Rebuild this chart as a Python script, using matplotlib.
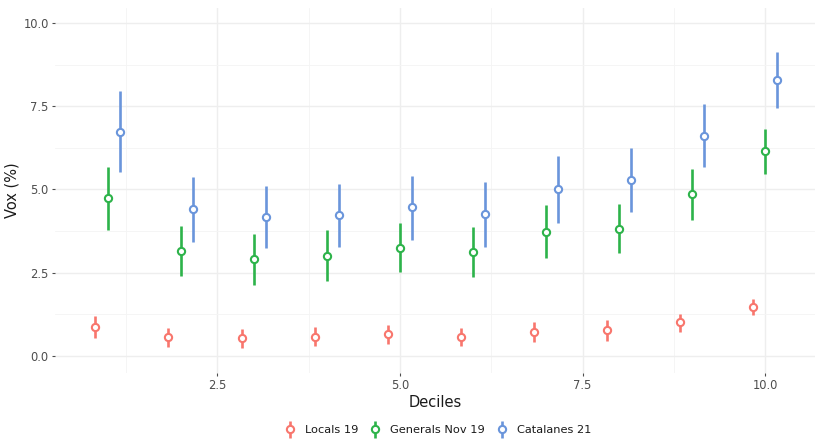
import numpy as np
import matplotlib
matplotlib.use("Agg")
import matplotlib.pyplot as plt
from matplotlib.legend_handler import HandlerErrorbar

deciles = np.arange(1, 11)

series = ["Locals 19", "Generals Nov 19", "Catalanes 21"]
colors = ["#F8766D", "#2DB34A", "#6A95DB"]

locals_est = [0.85, 0.57, 0.52, 0.57, 0.64, 0.57, 0.72, 0.76, 1.00, 1.48]
locals_lo = [0.52, 0.25, 0.22, 0.28, 0.34, 0.28, 0.40, 0.45, 0.70, 1.23]
locals_hi = [1.20, 0.84, 0.80, 0.86, 0.92, 0.84, 1.00, 1.06, 1.27, 1.71]

generals_est = [4.73, 3.15, 2.91, 3.00, 3.25, 3.13, 3.73, 3.82, 4.86, 6.14]
generals_lo = [3.79, 2.41, 2.14, 2.26, 2.51, 2.38, 2.93, 3.08, 4.07, 5.46]
generals_hi = [5.67, 3.91, 3.67, 3.77, 4.00, 3.88, 4.52, 4.57, 5.62, 6.82]

catalanes_est = [6.73, 4.41, 4.17, 4.22, 4.46, 4.25, 5.01, 5.29, 6.60, 8.28]
catalanes_lo = [5.52, 3.43, 3.25, 3.26, 3.49, 3.28, 3.99, 4.32, 5.66, 7.43]
catalanes_hi = [7.95, 5.37, 5.09, 5.16, 5.39, 5.21, 6.01, 6.24, 7.55, 9.14]

est = [locals_est, generals_est, catalanes_est]
lo = [locals_lo, generals_lo, catalanes_lo]
hi = [locals_hi, generals_hi, catalanes_hi]
offsets = [-1 / 6, 0, 1 / 6]

plt.rcParams['font.family'] = ['DejaVu Sans']

fig = plt.figure(figsize=(8.18, 4.41), dpi=100)
ax = fig.add_axes([0.0672, 0.154, 0.9291, 0.828])

handles = []
for name, c, e, l, h, off in zip(series, colors, est, lo, hi, offsets):
    e = np.array(e)
    yerr = [e - np.array(l), np.array(h) - e]
    eb = ax.errorbar(deciles + off, e, yerr=yerr, fmt='o', color=c, ecolor=c,
                     elinewidth=1.9, capsize=0, markersize=5.2, markeredgewidth=1.5,
                     markerfacecolor='white', markeredgecolor=c, label=name, zorder=3)
    handles.append(eb)

ax.set_xlim(0.28, 10.68)
ax.set_ylim(-0.52, 10.45)
ax.set_xticks([2.5, 5.0, 7.5, 10.0])
ax.set_xticklabels(["2.5", "5.0", "7.5", "10.0"])
ax.set_yticks([0.0, 2.5, 5.0, 7.5, 10.0])
ax.set_yticklabels(["0.0", "2.5", "5.0", "7.5", "10.0"])
ax.set_xticks([1.25, 3.75, 6.25, 8.75], minor=True)
ax.set_yticks([1.25, 3.75, 6.25, 8.75], minor=True)

ax.grid(which='major', color='#eeeeee', linewidth=1.0)
ax.grid(which='minor', color='#f4f4f4', linewidth=0.6)
ax.set_axisbelow(True)
for s in ax.spines.values():
    s.set_visible(False)
ax.tick_params(which='major', length=2.5, width=0.8, color='#4d4d4d',
               labelcolor='#4d4d4d', labelsize=8.3, pad=2)
ax.tick_params(which='minor', length=0)

ax.set_xlabel("Deciles", fontsize=10.5, color='#1a1a1a', labelpad=2)
ax.set_ylabel("Vox (%)", fontsize=10.5, color='#1a1a1a', labelpad=3)

leg = fig.legend(handles=handles, labels=series, loc='lower center',
                 bbox_to_anchor=(0.535, -0.01), ncol=3,
                 frameon=False, fontsize=8.2, handletextpad=0.8,
                 columnspacing=1.0, handlelength=1.0,
                 handler_map={type(handles[0]): HandlerErrorbar(yerr_size=0.75)})
for t in leg.get_texts():
    t.set_color('#1a1a1a')

fig.savefig("out.png", dpi=100, facecolor='white')
